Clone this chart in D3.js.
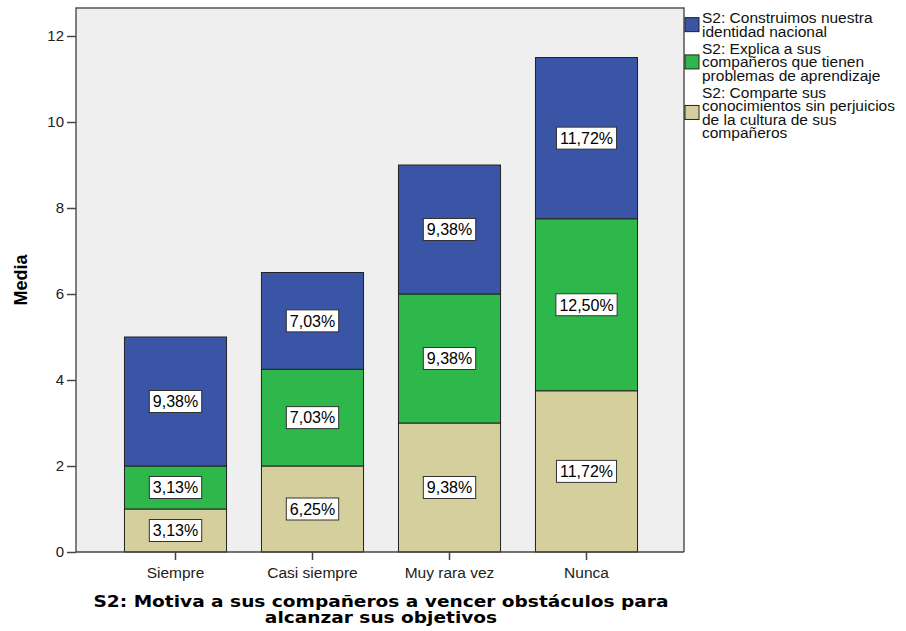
<!DOCTYPE html>
<html>
<head>
<meta charset="utf-8">
<script src="https://cdn.jsdelivr.net/npm/d3@7"></script>
<style>
  body { margin: 0; background: #fff; }
</style>
</head>
<body>
<script>
// chart values
const categories = ["Siempre", "Casi siempre", "Muy rara vez", "Nunca"];
const seriesNames = ["comparte", "explica", "construimos"];
const comparte = [1, 2, 3, 3.75];
const explica = [1, 2.25, 3, 4];
const construimos = [3, 2.25, 3, 3.75];
const comparteLabels = ["3,13%", "6,25%", "9,38%", "11,72%"];
const explicaLabels = ["3,13%", "7,03%", "9,38%", "12,50%"];
const construimosLabels = ["9,38%", "7,03%", "9,38%", "11,72%"];
const yTicks = [0, 2, 4, 6, 8, 10, 12];
const legendItems = [
    {key: "construimos", lines: ["S2: Construimos nuestra", "identidad nacional"]},
    {key: "explica", lines: ["S2: Explica a sus", "compañeros que tienen", "problemas de aprendizaje"]},
    {key: "comparte", lines: ["S2: Comparte sus", "conocimientos sin perjuicios", "de la cultura de sus", "compañeros"]}
];
const colors = {comparte: "#d5cf9d", explica: "#2eb84c", construimos: "#3a54a6"};
const labelsByKey = {comparte: comparteLabels, explica: explicaLabels, construimos: construimosLabels};

const width = 906, height = 631;
const plot = {left: 76, right: 684, top: 8, bottom: 552};
const sans = "Liberation Sans, Arial, sans-serif";
const boldFont = "DejaVu Sans, sans-serif";

const rows = categories.map((c, i) => ({
    cat: c, comparte: comparte[i], explica: explica[i], construimos: construimos[i]
}));
const stacked = d3.stack().keys(seriesNames)(rows);

const x = d3.scaleBand()
    .domain(categories)
    .range([107, 655])
    .paddingInner(0.255)
    .paddingOuter(0.1275);
const y = d3.scaleLinear().domain([0, 12]).range([552, 36]);

const svg = d3.select("body").append("svg")
    .attr("width", width)
    .attr("height", height)
    .attr("font-family", sans);

// plot background
svg.append("rect")
    .attr("x", plot.left)
    .attr("y", plot.top)
    .attr("width", plot.right - plot.left)
    .attr("height", plot.bottom - plot.top)
    .attr("fill", "#efefef");

// bars
const layers = svg.append("g")
    .selectAll("g")
    .data(stacked)
    .join("g")
    .attr("fill", d => colors[d.key]);
layers.selectAll("rect")
    .data(d => d)
    .join("rect")
    .attr("x", d => x(d.data.cat))
    .attr("width", x.bandwidth())
    .attr("y", d => y(d[1]))
    .attr("height", d => y(d[0]) - y(d[1]))
    .attr("stroke", "#222")
    .attr("stroke-width", 1);

// value labels
stacked.forEach(layer => {
    layer.forEach((d, i) => {
        const cx = x(d.data.cat) + x.bandwidth() / 2;
        const cy = (y(d[0]) + y(d[1])) / 2;
        const g = svg.append("g").attr("transform", `translate(${cx},${cy})`);
        const t = g.append("text")
            .attr("text-anchor", "middle")
            .attr("dy", "0.36em")
            .attr("font-size", 16)
            .attr("fill", "#000")
            .text(labelsByKey[layer.key][i]);
        const w = t.node().getComputedTextLength() + 7;
        g.insert("rect", "text")
            .attr("x", -w / 2)
            .attr("y", -11)
            .attr("width", w)
            .attr("height", 22)
            .attr("fill", "#fff")
            .attr("stroke", "#333")
            .attr("stroke-width", 1);
    });
});

// frame
svg.append("path")
    .attr("d", `M${plot.left},${plot.bottom}V${plot.top}H${plot.right}V${plot.bottom}`)
    .attr("fill", "none")
    .attr("stroke", "#555")
    .attr("stroke-width", 1.5);

// y axis
svg.append("g")
    .attr("transform", `translate(${plot.left},0)`)
    .call(d3.axisLeft(y).tickValues(yTicks).tickSize(9).tickPadding(3))
    .call(g => g.select(".domain").remove())
    .call(g => g.selectAll(".tick line").attr("stroke", "#444").attr("stroke-width", 1.5))
    .call(g => g.selectAll(".tick text")
        .attr("font-family", sans)
        .attr("font-size", 15)
        .attr("fill", "#222"));

// x axis
svg.append("g")
    .attr("transform", `translate(0,${plot.bottom})`)
    .call(d3.axisBottom(x).tickSize(8).tickPadding(7).tickSizeOuter(0))
    .call(g => g.select(".domain")
        .attr("d", `M${plot.left},0H${plot.right}`)
        .attr("stroke", "#444").attr("stroke-width", 1.5))
    .call(g => g.selectAll(".tick line").attr("stroke", "#444").attr("stroke-width", 1.5))
    .call(g => g.selectAll(".tick text")
        .attr("font-family", sans)
        .attr("font-size", 15.5)
        .attr("fill", "#222"));

// y axis title
svg.append("text")
    .attr("transform", "translate(27,280) rotate(-90)")
    .attr("text-anchor", "middle")
    .attr("font-family", sans)
    .attr("font-weight", "bold")
    .attr("font-size", 18)
    .text("Media");

// x axis title (reference is a bit wide, so stretch horizontally)
const titleLines = ["S2: Motiva a sus compañeros a vencer obstáculos para", "alcanzar sus objetivos"];
svg.append("g")
    .attr("transform", "translate(381,0) scale(1.16,1)")
    .selectAll("text")
    .data(titleLines)
    .join("text")
    .attr("x", 0)
    .attr("y", (d, i) => 607 + i * 16)
    .attr("text-anchor", "middle")
    .attr("font-family", boldFont)
    .attr("font-weight", "bold")
    .attr("font-size", 16)
    .text(d => d);

// legend
let ly = 18;
legendItems.forEach(item => {
    const n = item.lines.length;
    const mid = ly + (n - 1) * 13.3 / 2;
    svg.append("rect")
        .attr("x", 685)
        .attr("y", mid - 7)
        .attr("width", 14)
        .attr("height", 14)
        .attr("fill", colors[item.key])
        .attr("stroke", "#222")
        .attr("stroke-width", 1);
    item.lines.forEach((line, j) => {
        svg.append("text")
            .attr("x", 702)
            .attr("y", ly + j * 13.3)
            .attr("dy", "0.35em")
            .attr("font-size", 15.5)
            .attr("fill", "#111")
            .text(line);
    });
    ly += n * 13.3 + 4;
});
</script>
</body>
</html>
